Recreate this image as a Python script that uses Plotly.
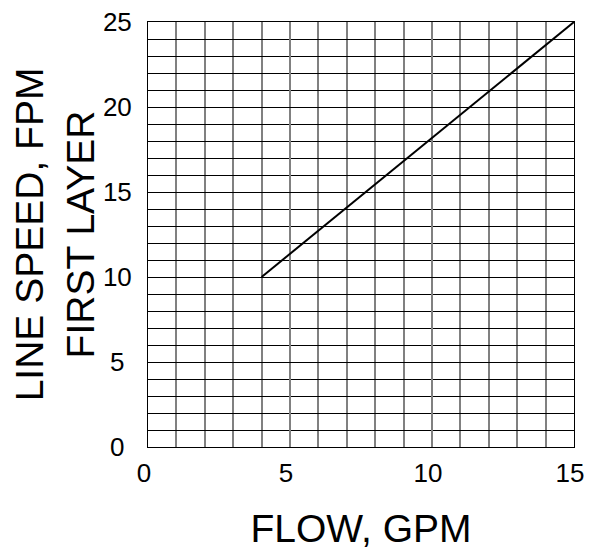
import plotly.graph_objects as go

# Data
flow_gpm = [4, 15]
line_speed_fpm = [10, 25]

x_tick_vals = [0, 5, 10, 15]
x_tick_text = ["0", "5", "10", "15"]
y_tick_vals = [0, 5, 10, 15, 20, 25]
y_tick_text = ["0\u00a0", "5\u00a0", "10", "15", "20", "25"]

x_title = "FLOW, GPM"
y_title = "LINE SPEED, FPM<br>FIRST LAYER"

FONT = "Liberation Sans, Arial, sans-serif"

fig = go.Figure()
fig.add_trace(go.Scatter(
    x=flow_gpm, y=line_speed_fpm, mode="lines",
    line=dict(color="black", width=2), showlegend=False,
))

fig.update_layout(
    width=587, height=542,
    margin=dict(l=140, r=21, t=14, b=103, pad=0),
    paper_bgcolor="white", plot_bgcolor="white",
    font=dict(family=FONT, color="black"),
)

fig.update_xaxes(
    range=[0, 15], tickmode="array", tickvals=x_tick_vals, ticktext=x_tick_text,
    showgrid=True, gridcolor="#808080", gridwidth=2,
    minor=dict(dtick=1, showgrid=True, gridcolor="#808080", gridwidth=2),
    showline=True, linecolor="black", linewidth=1, mirror=True,
    ticks="", zeroline=False,
    tickfont=dict(size=26, family=FONT, color="black"),
    ticklabelshift=-4, ticklabelstandoff=3, ticklabeloverflow="allow",
    title=dict(text=x_title, font=dict(size=39, family=FONT, color="black"), standoff=28),
    automargin=False,
)
fig.update_yaxes(
    range=[0, 25], tickmode="array", tickvals=y_tick_vals, ticktext=y_tick_text,
    showgrid=True, gridcolor="black", gridwidth=1,
    minor=dict(dtick=1, showgrid=True, gridcolor="black", gridwidth=1),
    showline=True, linecolor="black", linewidth=1, mirror=True,
    ticks="", zeroline=False,
    tickfont=dict(size=26, family=FONT, color="black"),
    ticklabelstandoff=10, ticklabeloverflow="allow",
    title=dict(text=y_title, font=dict(size=39, family=FONT, color="black"), standoff=15),
    automargin=False,
)

fig.write_html("out.html")
